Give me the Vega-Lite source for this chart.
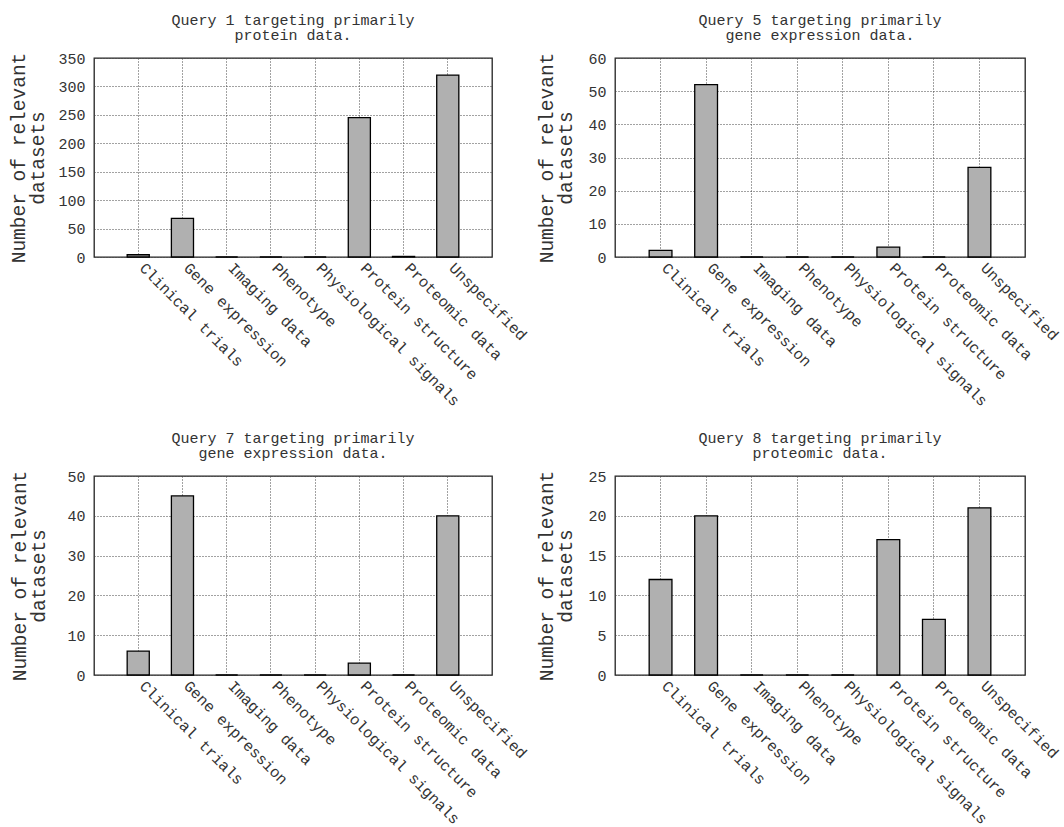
{
  "$schema": "https://vega.github.io/schema/vega-lite/v6.json",
  "background": "white",
  "padding": {"left": 8, "top": 12, "right": 0, "bottom": 0},
  "data": {"values": [
    {"query": "Q1", "category": "Clinical trials", "count": 4},
    {"query": "Q1", "category": "Gene expression", "count": 68},
    {"query": "Q1", "category": "Imaging data", "count": 0},
    {"query": "Q1", "category": "Phenotype", "count": 0},
    {"query": "Q1", "category": "Physiological signals", "count": 0},
    {"query": "Q1", "category": "Protein structure", "count": 245},
    {"query": "Q1", "category": "Proteomic data", "count": 1},
    {"query": "Q1", "category": "Unspecified", "count": 320},
    {"query": "Q5", "category": "Clinical trials", "count": 2},
    {"query": "Q5", "category": "Gene expression", "count": 52},
    {"query": "Q5", "category": "Imaging data", "count": 0},
    {"query": "Q5", "category": "Phenotype", "count": 0},
    {"query": "Q5", "category": "Physiological signals", "count": 0},
    {"query": "Q5", "category": "Protein structure", "count": 3},
    {"query": "Q5", "category": "Proteomic data", "count": 0},
    {"query": "Q5", "category": "Unspecified", "count": 27},
    {"query": "Q7", "category": "Clinical trials", "count": 6},
    {"query": "Q7", "category": "Gene expression", "count": 45},
    {"query": "Q7", "category": "Imaging data", "count": 0},
    {"query": "Q7", "category": "Phenotype", "count": 0},
    {"query": "Q7", "category": "Physiological signals", "count": 0},
    {"query": "Q7", "category": "Protein structure", "count": 3},
    {"query": "Q7", "category": "Proteomic data", "count": 0},
    {"query": "Q7", "category": "Unspecified", "count": 40},
    {"query": "Q8", "category": "Clinical trials", "count": 12},
    {"query": "Q8", "category": "Gene expression", "count": 20},
    {"query": "Q8", "category": "Imaging data", "count": 0},
    {"query": "Q8", "category": "Phenotype", "count": 0},
    {"query": "Q8", "category": "Physiological signals", "count": 0},
    {"query": "Q8", "category": "Protein structure", "count": 17},
    {"query": "Q8", "category": "Proteomic data", "count": 7},
    {"query": "Q8", "category": "Unspecified", "count": 21}
  ]},
  "spacing": 20,
  "vconcat": [
    {
      "spacing": 6,
      "hconcat": [
        {
          "width": 398, "height": 199,
          "title": {"text": ["Query 1 targeting primarily", "protein data."]},
          "transform": [{"filter": "datum.query == 'Q1'"}],
          "mark": {"type": "bar", "fill": "#b0b0b0", "stroke": "#000", "strokeWidth": 1.3},
          "encoding": {
            "x": {"field": "category", "type": "nominal", "sort": null, "scale": {"paddingInner": 0.5, "paddingOuter": 0.75}, "axis": {"title": null, "labelAngle": 45, "labelAlign": "left", "labelBaseline": "middle", "labelPadding": 8, "labelOffset": 4, "labelLimit": 400, "bandPosition": 0.5}},
            "y": {"field": "count", "type": "quantitative", "scale": {"domain": [0, 350], "nice": false}, "axis": {"values": [0, 50, 100, 150, 200, 250, 300, 350], "title": ["Number of relevant", "datasets"], "titlePadding": 10}}
          }
        },
        {
          "width": 410, "height": 199,
          "title": {"text": ["Query 5 targeting primarily", "gene expression data."]},
          "transform": [{"filter": "datum.query == 'Q5'"}],
          "mark": {"type": "bar", "fill": "#b0b0b0", "stroke": "#000", "strokeWidth": 1.3},
          "encoding": {
            "x": {"field": "category", "type": "nominal", "sort": null, "scale": {"paddingInner": 0.5, "paddingOuter": 0.75}, "axis": {"title": null, "labelAngle": 45, "labelAlign": "left", "labelBaseline": "middle", "labelPadding": 8, "labelOffset": 4, "labelLimit": 400, "bandPosition": 0.5}},
            "y": {"field": "count", "type": "quantitative", "scale": {"domain": [0, 60], "nice": false}, "axis": {"values": [0, 10, 20, 30, 40, 50, 60], "title": ["Number of relevant", "datasets"]}}
          }
        }
      ]
    },
    {
      "spacing": 6,
      "hconcat": [
        {
          "width": 398, "height": 199,
          "title": {"text": ["Query 7 targeting primarily", "gene expression data."]},
          "transform": [{"filter": "datum.query == 'Q7'"}],
          "mark": {"type": "bar", "fill": "#b0b0b0", "stroke": "#000", "strokeWidth": 1.3},
          "encoding": {
            "x": {"field": "category", "type": "nominal", "sort": null, "scale": {"paddingInner": 0.5, "paddingOuter": 0.75}, "axis": {"title": null, "labelAngle": 45, "labelAlign": "left", "labelBaseline": "middle", "labelPadding": 8, "labelOffset": 4, "labelLimit": 400, "bandPosition": 0.5}},
            "y": {"field": "count", "type": "quantitative", "scale": {"domain": [0, 50], "nice": false}, "axis": {"values": [0, 10, 20, 30, 40, 50], "title": ["Number of relevant", "datasets"], "titlePadding": 18}}
          }
        },
        {
          "width": 410, "height": 199,
          "title": {"text": ["Query 8 targeting primarily", "proteomic data."]},
          "transform": [{"filter": "datum.query == 'Q8'"}],
          "mark": {"type": "bar", "fill": "#b0b0b0", "stroke": "#000", "strokeWidth": 1.3},
          "encoding": {
            "x": {"field": "category", "type": "nominal", "sort": null, "scale": {"paddingInner": 0.5, "paddingOuter": 0.75}, "axis": {"title": null, "labelAngle": 45, "labelAlign": "left", "labelBaseline": "middle", "labelPadding": 8, "labelOffset": 4, "labelLimit": 400, "bandPosition": 0.5}},
            "y": {"field": "count", "type": "quantitative", "scale": {"domain": [0, 25], "nice": false}, "axis": {"values": [0, 5, 10, 15, 20, 25], "title": ["Number of relevant", "datasets"]}}
          }
        }
      ]
    }
  ],
  "config": {
    "font": "Liberation Mono",
    "view": {"stroke": "#222", "strokeWidth": 1.3},
    "axis": {
      "labelFont": "Liberation Mono", "labelFontSize": 15, "labelColor": "#333",
      "titleFont": "Liberation Mono", "titleFontSize": 19.5, "titleFontWeight": "normal", "titleColor": "#333", "titlePadding": 12, "titleLineHeight": 19,
      "grid": true, "gridColor": "#444", "gridDash": [1, 2], "gridWidth": 1,
      "ticks": false, "domain": false
    },
    "axisX": {"labelFontSize": 15.5},
    "axisY": {"labelPadding": 9},
    "title": {"font": "Liberation Mono", "fontSize": 15, "fontWeight": "normal", "color": "#333", "lineHeight": 15, "offset": 8, "anchor": "middle"}
  }
}
